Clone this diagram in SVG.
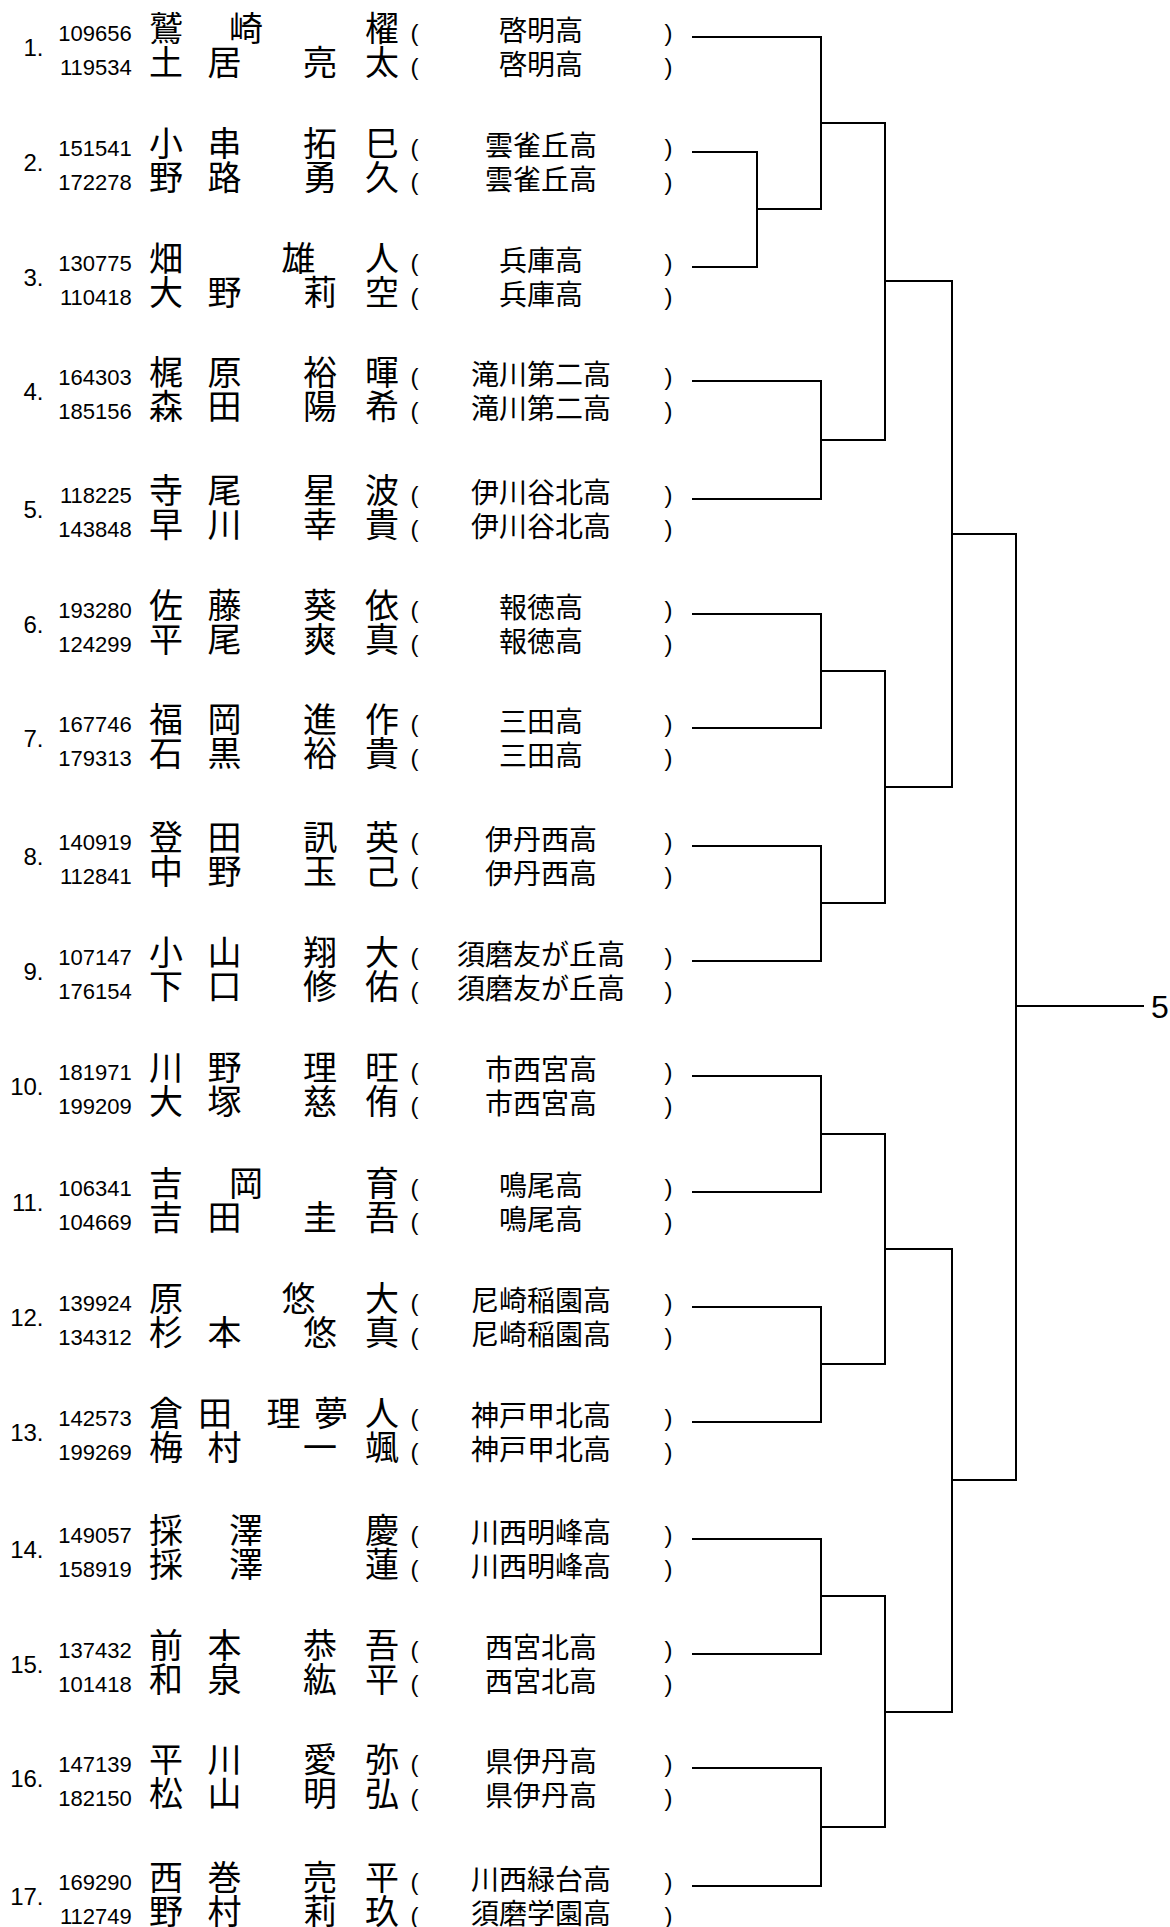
<svg xmlns="http://www.w3.org/2000/svg" width="1170" height="1927" viewBox="0 0 1170 1927">
<style>
.lbl{font-family:"Liberation Sans",Arial,sans-serif;font-size:24px;text-anchor:end;fill:#000}
.id{font-family:"Liberation Sans",Arial,sans-serif;font-size:22px;text-anchor:end;fill:#000}
.nm{font-family:"Noto Sans CJK JP","Noto Sans CJK SC",sans-serif;font-size:34px;fill:#000}
.sc{font-family:"Noto Sans CJK JP","Noto Sans CJK SC",sans-serif;font-size:28px;text-anchor:middle;fill:#000}
.p{font-family:"Liberation Sans",Arial,sans-serif;font-size:24px;fill:#000}
.ln{fill:none;stroke:#000;stroke-width:2;stroke-linecap:square;stroke-linejoin:miter}
.res{font-family:"Liberation Sans",Arial,sans-serif;font-size:32px;fill:#000}
</style>
<defs>
<text id="po" class="p" x="410.5">(</text>
<text id="pc" class="p" x="664.5">)</text>
</defs>
<rect width="1170" height="1927" fill="#fff"/>

<g id="connectors" class="ln">
<path d="M693 152 H757 V267 H693"/>
<path d="M693 37 H821 V209 H757"/>
<path d="M821 123 H885"/>
<path d="M693 381 H821 V499 H693"/>
<path d="M821 440 H885"/>
<path d="M885 123 V440"/>
<path d="M885 281 H952"/>
<path d="M693 614 H821 V728 H693"/>
<path d="M821 671 H885"/>
<path d="M693 846 H821 V961 H693"/>
<path d="M821 903 H885"/>
<path d="M885 671 V903"/>
<path d="M885 787 H952"/>
<path d="M952 281 V787"/>
<path d="M952 534 H1016"/>
<path d="M693 1076 H821 V1192 H693"/>
<path d="M821 1134 H885"/>
<path d="M693 1307 H821 V1422 H693"/>
<path d="M821 1364 H885"/>
<path d="M885 1134 V1364"/>
<path d="M885 1249 H952"/>
<path d="M693 1539 H821 V1654 H693"/>
<path d="M821 1596 H885"/>
<path d="M693 1768 H821 V1886 H693"/>
<path d="M821 1827 H885"/>
<path d="M885 1596 V1827"/>
<path d="M885 1712 H952"/>
<path d="M952 1249 V1712"/>
<path d="M952 1480 H1016"/>
<path d="M1016 534 V1480"/>
<path d="M1016 1006 H1143"/>
</g>

<g id="result"><text class="res" x="1151" y="1018">5</text></g>

<g id="entry-1" transform="translate(0,37)">
<text class="lbl" x="43.5" y="18.5">1.</text>
<text class="id" x="131.7" y="3.5">109656</text><text class="nm" x="149 229 365" y="3.5">鷲崎櫂</text><use href="#po" y="3.5"/><text class="sc" x="541" y="3.5">啓明高</text><use href="#pc" y="3.5"/>
<text class="id" x="131.7" y="37.8">119534</text><text class="nm" x="149 207.5 303 365" y="37.8">土居亮太</text><use href="#po" y="37.8"/><text class="sc" x="541" y="37.8">啓明高</text><use href="#pc" y="37.8"/>
</g>

<g id="entry-2" transform="translate(0,152)">
<text class="lbl" x="43.5" y="18.5">2.</text>
<text class="id" x="131.7" y="3.5">151541</text><text class="nm" x="149 207.5 303 365" y="3.5">小串拓巳</text><use href="#po" y="3.5"/><text class="sc" x="541" y="3.5">雲雀丘高</text><use href="#pc" y="3.5"/>
<text class="id" x="131.7" y="37.8">172278</text><text class="nm" x="149 207.5 303 365" y="37.8">野路勇久</text><use href="#po" y="37.8"/><text class="sc" x="541" y="37.8">雲雀丘高</text><use href="#pc" y="37.8"/>
</g>

<g id="entry-3" transform="translate(0,267)">
<text class="lbl" x="43.5" y="18.5">3.</text>
<text class="id" x="131.7" y="3.5">130775</text><text class="nm" x="149 281.5 365" y="3.5">畑雄人</text><use href="#po" y="3.5"/><text class="sc" x="541" y="3.5">兵庫高</text><use href="#pc" y="3.5"/>
<text class="id" x="131.7" y="37.8">110418</text><text class="nm" x="149 207.5 303 365" y="37.8">大野莉空</text><use href="#po" y="37.8"/><text class="sc" x="541" y="37.8">兵庫高</text><use href="#pc" y="37.8"/>
</g>

<g id="entry-4" transform="translate(0,381)">
<text class="lbl" x="43.5" y="18.5">4.</text>
<text class="id" x="131.7" y="3.5">164303</text><text class="nm" x="149 207.5 303 365" y="3.5">梶原裕暉</text><use href="#po" y="3.5"/><text class="sc" x="541" y="3.5">滝川第二高</text><use href="#pc" y="3.5"/>
<text class="id" x="131.7" y="37.8">185156</text><text class="nm" x="149 207.5 303 365" y="37.8">森田陽希</text><use href="#po" y="37.8"/><text class="sc" x="541" y="37.8">滝川第二高</text><use href="#pc" y="37.8"/>
</g>

<g id="entry-5" transform="translate(0,499)">
<text class="lbl" x="43.5" y="18.5">5.</text>
<text class="id" x="131.7" y="3.5">118225</text><text class="nm" x="149 207.5 303 365" y="3.5">寺尾星波</text><use href="#po" y="3.5"/><text class="sc" x="541" y="3.5">伊川谷北高</text><use href="#pc" y="3.5"/>
<text class="id" x="131.7" y="37.8">143848</text><text class="nm" x="149 207.5 303 365" y="37.8">早川幸貴</text><use href="#po" y="37.8"/><text class="sc" x="541" y="37.8">伊川谷北高</text><use href="#pc" y="37.8"/>
</g>

<g id="entry-6" transform="translate(0,614)">
<text class="lbl" x="43.5" y="18.5">6.</text>
<text class="id" x="131.7" y="3.5">193280</text><text class="nm" x="149 207.5 303 365" y="3.5">佐藤葵依</text><use href="#po" y="3.5"/><text class="sc" x="541" y="3.5">報徳高</text><use href="#pc" y="3.5"/>
<text class="id" x="131.7" y="37.8">124299</text><text class="nm" x="149 207.5 303 365" y="37.8">平尾爽真</text><use href="#po" y="37.8"/><text class="sc" x="541" y="37.8">報徳高</text><use href="#pc" y="37.8"/>
</g>

<g id="entry-7" transform="translate(0,728)">
<text class="lbl" x="43.5" y="18.5">7.</text>
<text class="id" x="131.7" y="3.5">167746</text><text class="nm" x="149 207.5 303 365" y="3.5">福岡進作</text><use href="#po" y="3.5"/><text class="sc" x="541" y="3.5">三田高</text><use href="#pc" y="3.5"/>
<text class="id" x="131.7" y="37.8">179313</text><text class="nm" x="149 207.5 303 365" y="37.8">石黒裕貴</text><use href="#po" y="37.8"/><text class="sc" x="541" y="37.8">三田高</text><use href="#pc" y="37.8"/>
</g>

<g id="entry-8" transform="translate(0,846)">
<text class="lbl" x="43.5" y="18.5">8.</text>
<text class="id" x="131.7" y="3.5">140919</text><text class="nm" x="149 207.5 303 365" y="3.5">登田訊英</text><use href="#po" y="3.5"/><text class="sc" x="541" y="3.5">伊丹西高</text><use href="#pc" y="3.5"/>
<text class="id" x="131.7" y="37.8">112841</text><text class="nm" x="149 207.5 303 365" y="37.8">中野玉己</text><use href="#po" y="37.8"/><text class="sc" x="541" y="37.8">伊丹西高</text><use href="#pc" y="37.8"/>
</g>

<g id="entry-9" transform="translate(0,961)">
<text class="lbl" x="43.5" y="18.5">9.</text>
<text class="id" x="131.7" y="3.5">107147</text><text class="nm" x="149 207.5 303 365" y="3.5">小山翔大</text><use href="#po" y="3.5"/><text class="sc" x="541" y="3.5">須磨友が丘高</text><use href="#pc" y="3.5"/>
<text class="id" x="131.7" y="37.8">176154</text><text class="nm" x="149 207.5 303 365" y="37.8">下口修佑</text><use href="#po" y="37.8"/><text class="sc" x="541" y="37.8">須磨友が丘高</text><use href="#pc" y="37.8"/>
</g>

<g id="entry-10" transform="translate(0,1076)">
<text class="lbl" x="43.5" y="18.5">10.</text>
<text class="id" x="131.7" y="3.5">181971</text><text class="nm" x="149 207.5 303 365" y="3.5">川野理旺</text><use href="#po" y="3.5"/><text class="sc" x="541" y="3.5">市西宮高</text><use href="#pc" y="3.5"/>
<text class="id" x="131.7" y="37.8">199209</text><text class="nm" x="149 207.5 303 365" y="37.8">大塚慈侑</text><use href="#po" y="37.8"/><text class="sc" x="541" y="37.8">市西宮高</text><use href="#pc" y="37.8"/>
</g>

<g id="entry-11" transform="translate(0,1192)">
<text class="lbl" x="43.5" y="18.5">11.</text>
<text class="id" x="131.7" y="3.5">106341</text><text class="nm" x="149 229 365" y="3.5">吉岡育</text><use href="#po" y="3.5"/><text class="sc" x="541" y="3.5">鳴尾高</text><use href="#pc" y="3.5"/>
<text class="id" x="131.7" y="37.8">104669</text><text class="nm" x="149 207.5 303 365" y="37.8">吉田圭吾</text><use href="#po" y="37.8"/><text class="sc" x="541" y="37.8">鳴尾高</text><use href="#pc" y="37.8"/>
</g>

<g id="entry-12" transform="translate(0,1307)">
<text class="lbl" x="43.5" y="18.5">12.</text>
<text class="id" x="131.7" y="3.5">139924</text><text class="nm" x="149 281.5 365" y="3.5">原悠大</text><use href="#po" y="3.5"/><text class="sc" x="541" y="3.5">尼崎稲園高</text><use href="#pc" y="3.5"/>
<text class="id" x="131.7" y="37.8">134312</text><text class="nm" x="149 207.5 303 365" y="37.8">杉本悠真</text><use href="#po" y="37.8"/><text class="sc" x="541" y="37.8">尼崎稲園高</text><use href="#pc" y="37.8"/>
</g>

<g id="entry-13" transform="translate(0,1422)">
<text class="lbl" x="43.5" y="18.5">13.</text>
<text class="id" x="131.7" y="3.5">142573</text><text class="nm" x="149 198 266.5 314 365" y="3.5">倉田理夢人</text><use href="#po" y="3.5"/><text class="sc" x="541" y="3.5">神戸甲北高</text><use href="#pc" y="3.5"/>
<text class="id" x="131.7" y="37.8">199269</text><text class="nm" x="149 207.5 303 365" y="37.8">梅村一颯</text><use href="#po" y="37.8"/><text class="sc" x="541" y="37.8">神戸甲北高</text><use href="#pc" y="37.8"/>
</g>

<g id="entry-14" transform="translate(0,1539)">
<text class="lbl" x="43.5" y="18.5">14.</text>
<text class="id" x="131.7" y="3.5">149057</text><text class="nm" x="149 229 365" y="3.5">採澤慶</text><use href="#po" y="3.5"/><text class="sc" x="541" y="3.5">川西明峰高</text><use href="#pc" y="3.5"/>
<text class="id" x="131.7" y="37.8">158919</text><text class="nm" x="149 229 365" y="37.8">採澤蓮</text><use href="#po" y="37.8"/><text class="sc" x="541" y="37.8">川西明峰高</text><use href="#pc" y="37.8"/>
</g>

<g id="entry-15" transform="translate(0,1654)">
<text class="lbl" x="43.5" y="18.5">15.</text>
<text class="id" x="131.7" y="3.5">137432</text><text class="nm" x="149 207.5 303 365" y="3.5">前本恭吾</text><use href="#po" y="3.5"/><text class="sc" x="541" y="3.5">西宮北高</text><use href="#pc" y="3.5"/>
<text class="id" x="131.7" y="37.8">101418</text><text class="nm" x="149 207.5 303 365" y="37.8">和泉紘平</text><use href="#po" y="37.8"/><text class="sc" x="541" y="37.8">西宮北高</text><use href="#pc" y="37.8"/>
</g>

<g id="entry-16" transform="translate(0,1768)">
<text class="lbl" x="43.5" y="18.5">16.</text>
<text class="id" x="131.7" y="3.5">147139</text><text class="nm" x="149 207.5 303 365" y="3.5">平川愛弥</text><use href="#po" y="3.5"/><text class="sc" x="541" y="3.5">県伊丹高</text><use href="#pc" y="3.5"/>
<text class="id" x="131.7" y="37.8">182150</text><text class="nm" x="149 207.5 303 365" y="37.8">松山明弘</text><use href="#po" y="37.8"/><text class="sc" x="541" y="37.8">県伊丹高</text><use href="#pc" y="37.8"/>
</g>

<g id="entry-17" transform="translate(0,1886)">
<text class="lbl" x="43.5" y="18.5">17.</text>
<text class="id" x="131.7" y="3.5">169290</text><text class="nm" x="149 207.5 303 365" y="3.5">西巻亮平</text><use href="#po" y="3.5"/><text class="sc" x="541" y="3.5">川西緑台高</text><use href="#pc" y="3.5"/>
<text class="id" x="131.7" y="37.8">112749</text><text class="nm" x="149 207.5 303 365" y="37.8">野村莉玖</text><use href="#po" y="37.8"/><text class="sc" x="541" y="37.8">須磨学園高</text><use href="#pc" y="37.8"/>
</g>
</svg>
